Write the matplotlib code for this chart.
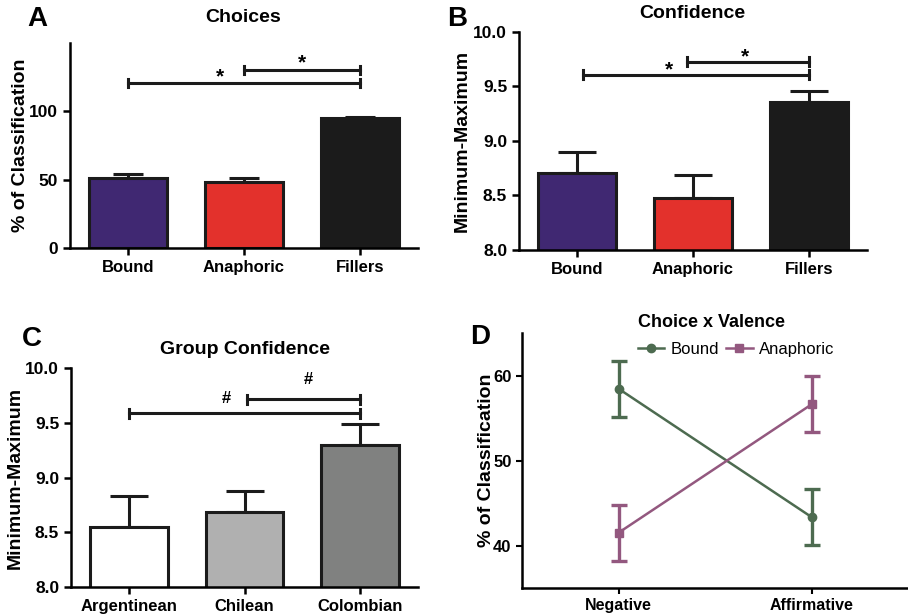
import numpy as np
import matplotlib.pyplot as plt
from matplotlib.lines import Line2D

plt.rcParams['font.family'] = ['Liberation Sans', 'DejaVu Sans']
plt.rcParams['font.weight'] = 'bold'

# A: choices
choice_cats = ['Bound', 'Anaphoric', 'Fillers']
choice_vals = [51.5, 48.0, 95.5]
choice_err = [3.0, 3.0, 0.3]
choice_colors = ['#402872', '#e3312c', '#1b1b1b']

# B: confidence
conf_vals = [8.71, 8.475, 9.36]
conf_err = [0.185, 0.21, 0.10]

# C: group confidence
group_cats = ['Argentinean', 'Chilean', 'Colombian']
group_vals = [8.55, 8.685, 9.295]
group_err = [0.28, 0.195, 0.195]
group_colors = ['#ffffff', '#b0b0b0', '#808180']

# D: choice x valence
valence = ['Negative', 'Affirmative']
bound_line = [58.45, 43.35]
bound_err = [3.3, 3.3]
anaph_line = [41.5, 56.6]
anaph_err = [3.3, 3.3]

fig = plt.figure(figsize=(9.08, 6.15), dpi=100)

def bar_panel(rect, cats, vals, err, colors, ylim, yticks, yfmt, ylabel, brackets, marks, sigsym, cap, lpad):
    ax = fig.add_axes(rect)
    x = np.arange(len(cats))
    ax.bar(x, vals, width=0.67, color=colors, edgecolor='#1b1b1b', linewidth=2.2, zorder=2)
    lo = np.zeros(len(vals))
    ax.errorbar(x, vals, yerr=[lo, err], fmt='none', ecolor='#1b1b1b', elinewidth=2.2,
                capsize=cap, capthick=2.2, zorder=1)
    ax.set_xlim(-0.5, 2.5)
    ax.set_ylim(*ylim)
    ax.set_yticks(yticks)
    ax.set_yticklabels([yfmt.format(t) for t in yticks], fontsize=12.5, fontweight='bold')
    ax.set_xticks(x)
    ax.set_xticklabels(cats, fontsize=12, fontweight='bold')
    ax.spines['top'].set_visible(False)
    ax.spines['right'].set_visible(False)
    ax.spines['left'].set_linewidth(1.8)
    ax.spines['bottom'].set_linewidth(1.8)
    ax.tick_params(width=1.8, length=5)
    ax.set_ylabel(ylabel, fontsize=14, fontweight='bold', labelpad=lpad)
    span = ylim[1] - ylim[0]
    for (x0, x1, yb), (mx, my) in zip(brackets, marks):
        ax.plot([x0, x1], [yb, yb], color='#1b1b1b', lw=2.2, clip_on=False)
        for xe in (x0, x1):
            ax.plot([xe, xe], [yb - span * 0.02, yb + span * 0.02], color='#1b1b1b', lw=2.2, clip_on=False)
        ax.text(mx, my, sigsym, ha='center', va='center', fontsize=15 if sigsym == '*' else 12,
                fontweight='bold')
    return ax

axA = bar_panel([0.0771, 0.5967, 0.3833, 0.3333], choice_cats, choice_vals, choice_err, choice_colors,
                (0, 150), [0, 50, 100], '{:.0f}', '% of Classification',
                [(0.0, 2.0, 120.6), (1.0, 2.0, 130.4)], [(0.79, 125.0), (1.5, 135.5)], '*', 11, 0)
fig.text(243 / 908, 1 - 17 / 615, 'Choices', fontsize=14, fontweight='bold', ha='center', va='center')

axB = bar_panel([0.5716, 0.5935, 0.3833, 0.3545], choice_cats, conf_vals, conf_err, choice_colors,
                (8.0, 10.0), [8.0, 8.5, 9.0, 9.5, 10.0], '{:.1f}', 'Minimum-Maximum',
                [(0.05, 2.0, 9.608), (0.95, 2.0, 9.728)], [(0.79, 9.655), (1.45, 9.775)], '*', 14, 2)
fig.text(692 / 908, 1 - 14 / 615, 'Confidence', fontsize=14, fontweight='bold', ha='center', va='center')

axC = bar_panel([0.0782, 0.046, 0.3822, 0.355], group_cats, group_vals, group_err, group_colors,
                (8.0, 10.0), [8.0, 8.5, 9.0, 9.5, 10.0], '{:.1f}', 'Minimum-Maximum',
                [(0.0, 2.0, 9.588), (1.02, 2.0, 9.716)], [(0.84, 9.72), (1.55, 9.90)], '#', 14, 1)
fig.text(245 / 908, 1 - 350 / 615, 'Group Confidence', fontsize=14, fontweight='bold', ha='center', va='center')

# D line plot
axD = fig.add_axes([0.5749, 0.0439, 0.4251, 0.4146])
xd = np.arange(len(valence))
green = '#4d6b50'
purple = '#93587f'
axD.errorbar(xd, bound_line, yerr=bound_err, color=green, marker='o', markersize=6, lw=1.8,
             elinewidth=2.4, capsize=6, capthick=2.4)
axD.errorbar(xd, anaph_line, yerr=anaph_err, color=purple, marker='s', markersize=6, lw=1.8,
             elinewidth=2.4, capsize=6, capthick=2.4)
axD.set_xlim(-0.5, 1.5)
axD.set_ylim(35, 65)
axD.set_yticks([40, 50, 60])
axD.set_yticklabels(['40', '50', '60'], fontsize=12, fontweight='bold')
axD.set_xticks(xd)
axD.set_xticklabels(valence, fontsize=11.5, fontweight='bold')
axD.spines['top'].set_visible(False)
axD.spines['right'].set_visible(False)
axD.spines['left'].set_linewidth(1.8)
axD.spines['bottom'].set_linewidth(1.8)
axD.tick_params(width=1.5, length=4)
axD.set_ylabel('% of Classification', fontsize=14, fontweight='bold', labelpad=-1)
fig.text(712 / 908, 1 - 323 / 615, 'Choice x Valence', fontsize=13, fontweight='bold', ha='center', va='center')
handles = [Line2D([], [], color=green, marker='o', markersize=6, lw=1.8),
           Line2D([], [], color=purple, marker='s', markersize=6, lw=1.8)]
axD.legend(handles, ['Bound', 'Anaphoric'], loc='center', bbox_to_anchor=(0.555, 0.937), ncol=2,
           frameon=False, prop={'size': 12, 'weight': 'normal'}, handlelength=1.6,
           columnspacing=0.4, handletextpad=0.4, borderpad=0)

# panel letters
for lx, ly, s in [(37, 19, 'A'), (457, 19, 'B'), (32, 339, 'C'), (480, 337, 'D')]:
    fig.text(lx / 908, 1 - ly / 615, s, fontsize=20, fontweight='bold', ha='center', va='center')

fig.savefig('out.png', dpi=100)
